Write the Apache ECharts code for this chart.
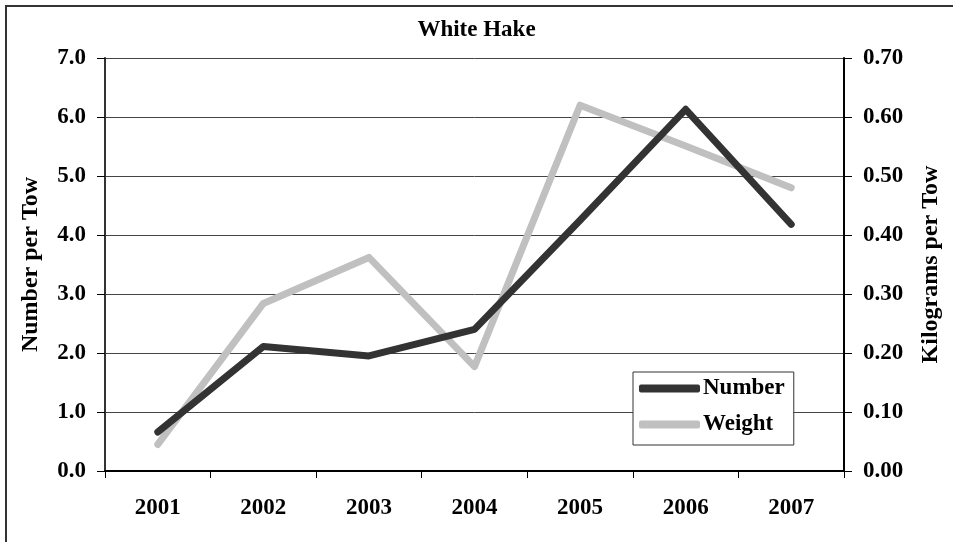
<!DOCTYPE html>
<html>
<head>
<meta charset="utf-8">
<script src="https://cdn.jsdelivr.net/npm/echarts@6/dist/echarts.min.js"></script>
<style>
    html, body { margin: 0; padding: 0; background: #fff; }
    #chart { width: 953px; height: 542px; }
</style>
</head>
<body>
<div id="chart"></div>
<script>
    var years = ['2001', '2002', '2003', '2004', '2005', '2006', '2007'];
    var numberPerTow = [0.66, 2.11, 1.95, 2.40, 4.25, 6.13, 4.18];
    var kgPerTow = [0.045, 0.284, 0.362, 0.177, 0.62, 0.551, 0.48];

    var font = "'Liberation Serif', 'Times New Roman', serif";
    var myChart = echarts.init(document.getElementById('chart'));

    myChart.setOption({
        animation: false,
        backgroundColor: '#fff',
        textStyle: { fontFamily: font },
        graphic: [{
            type: 'rect',
            shape: { x: 6, y: 6, width: 960, height: 560 },
            style: { fill: 'none', stroke: '#333', lineWidth: 2 },
            silent: true
        }],
        title: {
            text: 'White Hake',
            left: 'center',
            top: 14,
            textStyle: { fontFamily: font, fontSize: 23, fontWeight: 'bold', color: '#000' }
        },
        grid: { left: 105, right: 109, top: 58, bottom: 71 },
        legend: {
            orient: 'vertical',
            left: 633,
            top: 372,
            backgroundColor: '#fff',
            borderColor: '#333',
            borderWidth: 1,
            borderRadius: 0,
            padding: [5, 9, 9, 6],
            itemGap: 13,
            itemWidth: 61,
            itemHeight: 8,
            icon: 'roundRect',
            textStyle: { fontFamily: font, fontSize: 23, fontWeight: 'bold', color: '#000', padding: [0, 0, 0, -2] },
            data: ['Number', 'Weight']
        },
        xAxis: {
            type: 'category',
            data: years,
            boundaryGap: true,
            axisLine: { lineStyle: { color: '#000', width: 2 } },
            axisTick: { show: true, interval: 0, length: 7, lineStyle: { color: '#000', width: 1 } },
            axisLabel: { margin: 26, fontFamily: font, fontSize: 23, fontWeight: 'bold', color: '#000' }
        },
        yAxis: [{
            type: 'value',
            min: 0,
            max: 7,
            interval: 1,
            name: 'Number per Tow',
            nameLocation: 'middle',
            nameGap: 62,
            nameTextStyle: { fontFamily: font, fontSize: 24, fontWeight: 'bold', color: '#000' },
            axisLine: { show: true, lineStyle: { color: '#333', width: 2 } },
            axisTick: { show: true, length: 8, lineStyle: { color: '#000' } },
            axisLabel: {
                margin: 19,
                fontFamily: font, fontSize: 23, fontWeight: 'bold', color: '#000',
                formatter: function (v) { return v.toFixed(1); }
            },
            splitLine: { show: true, lineStyle: { color: '#444', width: 1 } }
        }, {
            type: 'value',
            min: 0,
            max: 0.7,
            interval: 0.1,
            name: 'Kilograms per Tow',
            nameLocation: 'middle',
            nameGap: 75,
            nameRotate: 90,
            nameTextStyle: { fontFamily: font, fontSize: 24, fontWeight: 'bold', color: '#000' },
            axisLine: { show: true, lineStyle: { color: '#000', width: 2 } },
            axisTick: { show: true, length: 8, lineStyle: { color: '#000' } },
            axisLabel: {
                margin: 19,
                fontFamily: font, fontSize: 23, fontWeight: 'bold', color: '#000',
                formatter: function (v) { return v.toFixed(2); }
            },
            splitLine: { show: false }
        }],
        series: [{
            name: 'Number',
            type: 'line',
            yAxisIndex: 0,
            data: numberPerTow,
            symbol: 'none',
            lineStyle: { color: '#333333', width: 7, cap: 'round', join: 'round' },
            itemStyle: { color: '#333333' },
            z: 3
        }, {
            name: 'Weight',
            type: 'line',
            yAxisIndex: 1,
            data: kgPerTow,
            symbol: 'none',
            lineStyle: { color: '#c0c0c0', width: 7, cap: 'round', join: 'round' },
            itemStyle: { color: '#c0c0c0' },
            z: 2
        }]
    });
</script>
</body>
</html>
